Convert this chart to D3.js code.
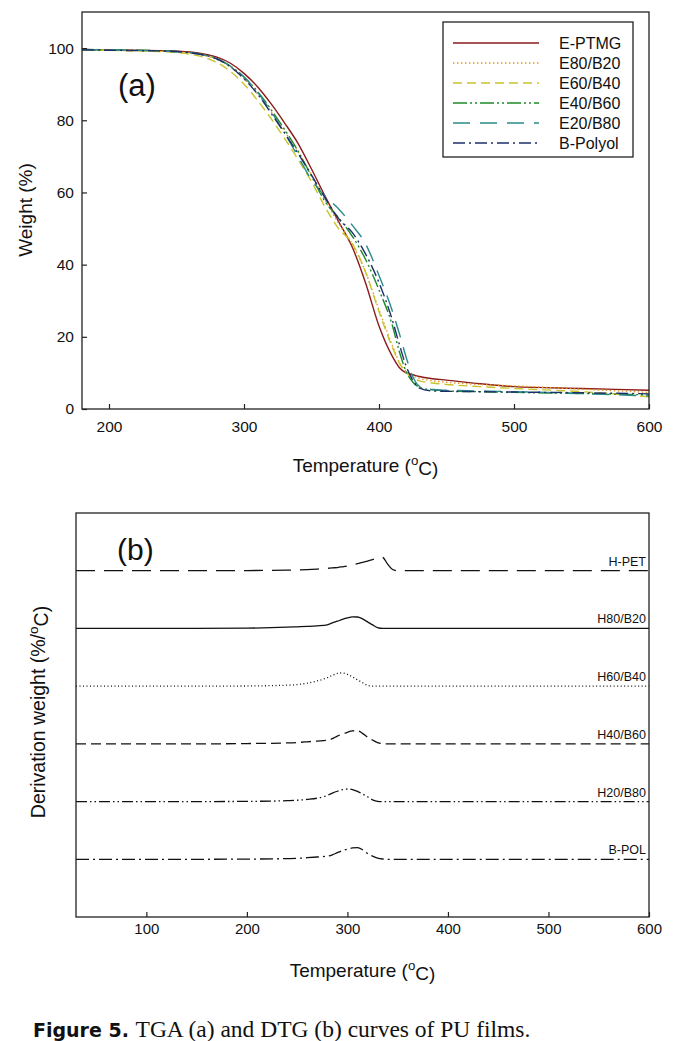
<!DOCTYPE html>
<html><head><meta charset="utf-8">
<script src="https://cdn.jsdelivr.net/npm/d3@7"></script>
<style>
html,body{margin:0;padding:0;background:#fff;}
svg{display:block;}
</style>
</head><body>
<svg id="c" width="681" height="1041"></svg>
<script>
// ---------- TGA (a) data ----------
const tgaTemps = [180,200,220,240,260,270,280,290,300,310,320,330,340,350,360,370,380,390,400,410,415,420,425,430,440,450,475,500,550,600];
const tgaNames = ["E-PTMG","E80/B20","E60/B40","E40/B60","E20/B80","B-Polyol"];
const wE_PTMG = [99.6,99.5,99.4,99.3,98.9,98.4,97.5,95.8,93.0,89.3,84.6,79.3,73.6,66.5,59.0,52.0,45.0,35.0,23.0,14.5,11.5,10.0,9.5,9.0,8.4,8.0,7.0,6.2,5.7,5.2];
const wE80_B20 = [99.5,99.4,99.3,99.1,98.6,98.0,96.8,94.7,91.5,87.3,82.5,77.0,71.3,64.8,58.0,51.5,45.8,38.0,27.5,17.5,13.0,10.5,9.2,8.5,7.8,7.4,6.8,6.4,5.5,4.6];
const wE60_B40 = [99.5,99.4,99.2,99.0,98.3,97.5,96.0,93.5,90.0,85.5,80.5,75.0,69.2,63.0,56.0,50.0,46.0,38.0,27.0,17.0,12.8,10.2,8.6,7.8,7.2,6.8,6.2,5.7,4.8,3.4];
const wE40_B60 = [99.6,99.5,99.4,99.2,98.8,98.2,97.0,95.0,92.0,88.0,83.0,77.5,71.5,64.5,57.5,53.0,48.0,41.5,33.0,23.0,16.0,10.5,7.5,6.0,5.3,5.0,4.8,4.6,4.3,3.9];
const wE20_B80 = [99.6,99.5,99.4,99.2,98.7,98.1,97.0,95.0,92.0,87.8,82.5,76.5,70.0,63.5,59.0,55.5,51.0,45.8,37.0,27.0,21.0,14.5,9.0,6.3,5.4,5.2,5.0,4.8,4.3,3.6];
const wB_Polyol = [99.5,99.4,99.3,99.2,98.7,98.1,97.0,94.8,91.5,87.3,82.0,76.5,70.8,64.8,58.5,52.8,49.0,43.0,35.0,24.5,18.0,12.0,8.0,5.8,5.0,4.9,4.8,4.7,4.5,4.2];
const tgaColors = ["#8b1a1a","#e0982e","#c9c32a","#1f8a2a","#2a8a8a","#1c2f6b"];
const tgaDash = ["none","1.5,2.5","9,5","14,3,2,3,2,3","17,10","12,4,2,4"];
const tgaXTicks = [200,300,400,500,600];
const tgaYTicks = [0,20,40,60,80,100];

// ---------- DTG (b) data ----------
const dtgTemps = [30,150,200,240,250,260,270,280,285,290,295,300,305,310,315,320,325,330,335,340,345,350,400,600];
const dtgNames = ["H-PET","H80/B20","H60/B40","H40/B60","H20/B80","B-POL"];
const dtgOffsets = [60,50,40,30,20,10];
const dH_PET  = [0,0,0.03,0.10,0.14,0.19,0.29,0.42,0.49,0.55,0.68,0.83,1.02,1.21,1.44,1.66,1.91,2.18,2.29,1.13,0.21,0,0,0];
const dH80_B20= [0,0,0.05,0.21,0.28,0.35,0.45,0.62,0.95,1.25,1.56,1.82,1.99,1.98,1.65,1.13,0.61,0.14,0,0,0,0,0,0];
const dH60_B40= [0,0,0.03,0.17,0.28,0.52,0.90,1.47,1.87,2.20,2.29,2.05,1.61,1.09,0.62,0.14,0,0,0,0,0,0,0,0];
const dH40_B60= [0,0,0.05,0.17,0.24,0.36,0.49,0.64,0.90,1.35,1.70,2.01,2.24,2.29,1.82,1.16,0.66,0.23,0.05,0,0,0,0,0];
const dH20_B80= [0,0,0.03,0.16,0.23,0.38,0.59,1.07,1.46,1.79,2.05,2.18,2.08,1.77,1.32,0.83,0.31,0.05,0,0,0,0,0,0];
const dB_POL  = [0,0,0.03,0.12,0.17,0.28,0.40,0.54,0.78,1.14,1.49,1.77,1.96,2.01,1.66,0.99,0.55,0.21,0.05,0,0,0,0,0];
const dtgDash = ["19,9","none","1,2.5","10,5","11,3,1.5,3,1.5,3","13,4,2,4"];
const dtgXTicks = [100,200,300,400,500,600];

const svg = d3.select("#c");
const AX = "#222";
const FONT = "Arial, 'Liberation Sans', sans-serif";

function superLabel(sel, before, after){
  sel.append("tspan").text(before);
  sel.append("tspan").attr("font-size","0.7em").attr("dy","-0.55em").text("o");
  sel.append("tspan").attr("dy","0.55em").text(after);
}

// ================= Panel (a) =================
{
  const L=82, T=12, R=649, B=409;
  const x = d3.scaleLinear().domain([180,600]).range([L,R]);
  const y = d3.scaleLinear().domain([0,110]).range([B,T]);
  const g = svg.append("g");
  const series = [wE_PTMG,wE80_B20,wE60_B40,wE40_B60,wE20_B80,wB_Polyol];
  const line = d3.line().x(d=>x(d[0])).y(d=>y(d[1])).curve(d3.curveMonotoneX);
  series.forEach((vals,i)=>{
    g.append("path").datum(tgaTemps.map((t,j)=>[t,vals[j]]))
      .attr("d",line).attr("fill","none")
      .attr("stroke",tgaColors[i]).attr("stroke-width",1.4)
      .attr("stroke-dasharray",tgaDash[i]==="none"?null:tgaDash[i]);
  });
  g.append("rect").attr("x",L).attr("y",T).attr("width",R-L).attr("height",B-T)
    .attr("fill","none").attr("stroke",AX).attr("stroke-width",1.3);
  const xa = g.append("g").attr("transform",`translate(0,${B})`)
    .call(d3.axisBottom(x).tickValues(tgaXTicks).tickSizeInner(-5).tickSizeOuter(0).tickPadding(12).tickFormat(d3.format("d")));
  const ya = g.append("g").attr("transform",`translate(${L},0)`)
    .call(d3.axisLeft(y).tickValues(tgaYTicks).tickSizeInner(-5).tickSizeOuter(0).tickPadding(8).tickFormat(d3.format("d")));
  [xa,ya].forEach(a=>{
    a.select(".domain").remove();
    a.selectAll("line").attr("stroke",AX).attr("stroke-width",1.2);
    a.selectAll("text").attr("font-family",FONT).attr("font-size",15.5).attr("fill","#111");
  });
  g.append("text").attr("x",(L+R)/2).attr("y",472).attr("text-anchor","middle")
    .attr("font-family",FONT).attr("font-size",19).attr("fill","#111")
    .call(s=>superLabel(s,"Temperature (","C)"));
  g.append("text").attr("transform",`translate(32,210) rotate(-90)`).attr("text-anchor","middle")
    .attr("font-family",FONT).attr("font-size",19).attr("fill","#111").text("Weight (%)");
  g.append("text").attr("x",118).attr("y",96).attr("font-family",FONT).attr("font-size",31).attr("fill","#111").text("(a)");
  // legend
  const lg = g.append("g");
  lg.append("rect").attr("x",443).attr("y",22).attr("width",190).attr("height",135)
    .attr("fill","#fff").attr("stroke",AX).attr("stroke-width",1.3);
  tgaNames.forEach((n,i)=>{
    const yy = 43 + i*20;
    lg.append("line").attr("x1",453).attr("x2",539).attr("y1",yy).attr("y2",yy)
      .attr("stroke",tgaColors[i]).attr("stroke-width",1.4)
      .attr("stroke-dasharray",tgaDash[i]==="none"?null:tgaDash[i]);
    lg.append("text").attr("x",559).attr("y",yy+5.5).attr("font-family",FONT).attr("font-size",16).attr("fill","#111").text(n);
  });
}

// ================= Panel (b) =================
{
  const L=76, T=513, R=649, B=917;
  const x = d3.scaleLinear().domain([30,600]).range([L,R]);
  const y = d3.scaleLinear().domain([0,70]).range([B,T]);
  const g = svg.append("g");
  const series = [dH_PET,dH80_B20,dH60_B40,dH40_B60,dH20_B80,dB_POL];
  const line = d3.line().x(d=>x(d[0])).y(d=>y(d[1])).curve(d3.curveMonotoneX);
  series.forEach((vals,i)=>{
    g.append("path").datum(dtgTemps.map((t,j)=>[t,dtgOffsets[i]+vals[j]]))
      .attr("d",line).attr("fill","none")
      .attr("stroke","#111").attr("stroke-width",1.3)
      .attr("stroke-dasharray",dtgDash[i]==="none"?null:dtgDash[i]);
    g.append("text").attr("x",646).attr("y",y(dtgOffsets[i])-5).attr("text-anchor","end")
      .attr("font-family",FONT).attr("font-size",12.5).attr("fill","#111").text(dtgNames[i]);
  });
  g.append("rect").attr("x",L).attr("y",T).attr("width",R-L).attr("height",B-T)
    .attr("fill","none").attr("stroke",AX).attr("stroke-width",1.3);
  const xa = g.append("g").attr("transform",`translate(0,${B})`)
    .call(d3.axisBottom(x).tickValues(dtgXTicks).tickSizeInner(-5).tickSizeOuter(0).tickPadding(6).tickFormat(d3.format("d")));
  xa.select(".domain").remove();
  xa.selectAll("line").attr("stroke",AX).attr("stroke-width",1.2);
  xa.selectAll("text").attr("font-family",FONT).attr("font-size",15).attr("fill","#111");
  g.append("text").attr("x",(L+R)/2).attr("y",977).attr("text-anchor","middle")
    .attr("font-family",FONT).attr("font-size",19).attr("fill","#111")
    .call(s=>superLabel(s,"Temperature (","C)"));
  g.append("text").attr("transform",`translate(45,712) rotate(-90)`).attr("text-anchor","middle")
    .attr("font-family",FONT).attr("font-size",19.5).attr("fill","#111")
    .call(s=>superLabel(s,"Derivation weight (%/","C)"));
  g.append("text").attr("x",117).attr("y",560).attr("font-family",FONT).attr("font-size",30).attr("fill","#111").text("(b)");
}

// caption
const cap = svg.append("text").attr("x",33).attr("y",1037).attr("fill","#111");
cap.append("tspan").attr("font-family","'DejaVu Sans', sans-serif").attr("font-weight","bold").attr("font-size",19).text("Figure 5. ");
cap.append("tspan").attr("font-family","'Liberation Serif', 'Times New Roman', serif").attr("font-size",23.5).text("TGA (a) and DTG (b) curves of PU films.");
</script>
</body></html>
